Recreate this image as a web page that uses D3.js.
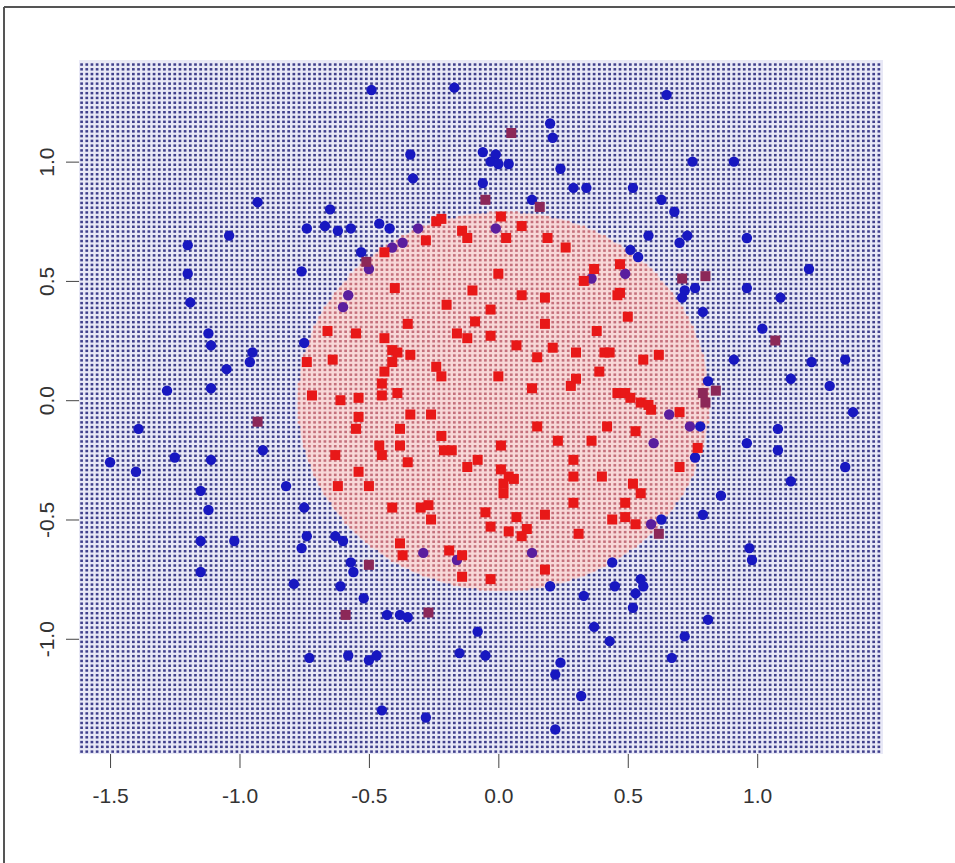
<!DOCTYPE html>
<html>
<head>
<meta charset="utf-8">
<script src="https://cdnjs.cloudflare.com/ajax/libs/d3/7.8.5/d3.min.js"></script>
<style>
  body { margin: 0; background: #fff; }
  svg { display: block; }
</style>
</head>
<body>
<div id="chart"></div>
<script>
// axis ticks
var xTicks = [-1.5, -1.0, -0.5, 0.0, 0.5, 1.0];
var yTicks = [-1.0, -0.5, 0.0, 0.5, 1.0];

// decision region: circle in data space
var boundaryCenter = [0.02, -0.005];
var boundaryRadius = 0.795;

// outside class, predicted outside (blue circles)
var blueCircles = [
  [-0.49,1.30],[-0.17,1.31],[-0.34,1.03],[-0.33,0.93],[-0.06,1.04],[-0.06,0.91],
  [-0.93,0.83],[-0.65,0.80],[-1.04,0.69],[-1.20,0.65],[-0.74,0.72],[-0.67,0.73],
  [-0.62,0.71],[-0.57,0.72],[-0.46,0.74],[-0.42,0.72],[-0.53,0.62],[-1.20,0.53],
  [-0.76,0.54],[-1.19,0.41],[-1.12,0.28],[-1.11,0.23],[-0.75,0.24],[-0.95,0.20],
  [-0.96,0.16],[-1.05,0.13],[-1.28,0.04],[-1.11,0.05],[-1.39,-0.12],[-1.50,-0.26],
  [-1.40,-0.30],[-1.25,-0.24],[-1.11,-0.25],[-0.91,-0.21],[-0.82,-0.36],[-1.15,-0.38],
  [-1.12,-0.46],[-0.75,-0.45],[-1.15,-0.59],[-1.02,-0.59],[-0.74,-0.57],[-0.76,-0.62],
  [-0.63,-0.57],[-0.60,-0.59],[-1.15,-0.72],[-0.57,-0.68],[-0.56,-0.72],[-0.79,-0.77],
  [-0.61,-0.78],[-0.52,-0.83],[-0.43,-0.90],[-0.38,-0.90],[-0.35,-0.91],[-0.08,-0.97],
  [-0.15,-1.06],[-0.05,-1.07],[-0.73,-1.08],[-0.58,-1.07],[-0.50,-1.09],[-0.47,-1.07],
  [-0.45,-1.30],[-0.28,-1.33],[0.65,1.28],[0.20,1.16],[0.21,1.10],[-0.01,1.03],
  [-0.03,1.00],[0.00,0.99],[0.04,0.99],[0.24,0.97],[0.29,0.89],[0.34,0.89],
  [0.52,0.89],[0.75,1.00],[0.91,1.00],[0.13,0.84],[0.63,0.84],[0.68,0.79],
  [0.58,0.69],[0.73,0.69],[0.70,0.66],[0.96,0.68],[0.51,0.63],[0.54,0.60],
  [0.76,0.47],[0.72,0.46],[0.71,0.43],[1.20,0.55],[0.96,0.47],[1.09,0.43],
  [0.79,0.37],[1.02,0.30],[0.91,0.17],[1.21,0.16],[1.34,0.17],[1.13,0.09],
  [1.28,0.06],[0.81,0.08],[1.37,-0.05],[1.08,-0.12],[0.96,-0.18],[1.08,-0.21],
  [1.34,-0.28],[0.76,-0.24],[1.13,-0.34],[0.86,-0.40],[0.79,-0.48],[0.97,-0.62],
  [0.98,-0.67],[0.44,-0.68],[0.45,-0.78],[0.55,-0.75],[0.56,-0.78],[0.53,-0.81],
  [0.52,-0.87],[0.33,-0.82],[0.20,-0.78],[0.81,-0.92],[0.37,-0.95],[0.43,-1.01],
  [0.72,-0.99],[0.67,-1.08],[0.24,-1.10],[0.22,-1.15],[0.32,-1.24],[0.22,-1.38],
  [0.63,-0.50],[0.78,-0.11]
];

// inside class, predicted inside (red squares)
var redSquares = [
  [-0.24,0.75],[-0.22,0.76],[-0.28,0.67],[-0.14,0.71],[-0.12,0.68],[-0.44,0.62],
  [-0.40,0.47],[-0.10,0.46],[-0.20,0.40],[-0.35,0.32],[-0.09,0.33],[-0.66,0.29],
  [-0.55,0.28],[-0.16,0.28],[-0.12,0.26],[-0.44,0.26],[-0.41,0.21],[-0.39,0.20],
  [-0.34,0.19],[-0.74,0.16],[-0.64,0.17],[-0.41,0.16],[-0.24,0.14],[-0.22,0.10],
  [-0.44,0.12],[-0.45,0.07],[-0.72,0.02],[-0.61,0.00],[-0.54,0.01],[-0.45,0.02],
  [-0.39,0.03],[-0.54,-0.07],[-0.34,-0.06],[-0.26,-0.06],[-0.55,-0.12],[-0.38,-0.12],
  [-0.22,-0.15],[-0.46,-0.19],[-0.38,-0.19],[-0.21,-0.21],[-0.18,-0.21],[-0.45,-0.23],
  [-0.63,-0.23],[-0.35,-0.26],[-0.12,-0.28],[-0.08,-0.25],[-0.54,-0.30],[-0.50,-0.36],
  [-0.62,-0.36],[-0.41,-0.45],[-0.30,-0.45],[-0.27,-0.44],[-0.26,-0.50],[-0.05,-0.47],
  [-0.38,-0.60],[-0.37,-0.65],[-0.19,-0.63],[-0.14,-0.65],[-0.14,-0.74],
  [0.01,0.77],[0.09,0.73],[0.03,0.68],[0.19,0.68],[0.26,0.64],[0.47,0.57],
  [0.00,0.53],[0.37,0.55],[0.33,0.50],[0.47,0.45],[0.46,0.44],[0.09,0.44],
  [0.18,0.43],[-0.03,0.38],[0.50,0.35],[0.18,0.32],[0.38,0.29],[-0.03,0.27],
  [0.07,0.23],[0.21,0.22],[0.15,0.18],[0.30,0.20],[0.41,0.20],[0.43,0.20],
  [0.56,0.17],[0.62,0.19],[0.39,0.12],[0.00,0.10],[0.13,0.05],[0.28,0.06],
  [0.30,0.09],[0.46,0.03],[0.49,0.03],[0.51,0.01],[0.55,-0.01],[0.58,-0.02],
  [0.59,-0.04],[0.70,-0.05],[0.70,-0.28],[0.77,-0.20],[0.15,-0.11],[0.42,-0.11],
  [0.53,-0.13],[0.01,-0.19],[0.23,-0.17],[0.36,-0.17],[0.29,-0.25],[0.01,-0.29],
  [0.04,-0.32],[0.06,-0.33],[0.02,-0.35],[0.02,-0.39],[0.29,-0.32],[0.40,-0.32],
  [0.52,-0.35],[0.55,-0.39],[0.29,-0.43],[0.49,-0.43],[0.07,-0.49],[0.18,-0.48],
  [0.44,-0.50],[0.49,-0.49],[0.53,-0.52],[-0.03,-0.53],[0.04,-0.55],[0.09,-0.57],
  [0.11,-0.54],[0.31,-0.56],[0.18,-0.71],[-0.03,-0.75]
];

// inside class, uncertain prediction (maroon squares)
var purpleSquares = [
  [-0.05,0.84],[0.05,1.12],[0.16,0.81],[-0.51,0.58],[0.71,0.51],[0.80,0.52],
  [1.07,0.25],[0.79,0.03],[0.84,0.04],[0.80,-0.01],[-0.93,-0.09],[-0.50,-0.69],
  [-0.59,-0.90],[-0.27,-0.89],[0.62,-0.56]
];

// outside class, uncertain prediction (purple circles)
var purpleCircles = [
  [-0.31,0.72],[-0.41,0.64],[-0.37,0.66],[-0.50,0.55],[-0.58,0.44],[-0.60,0.39],
  [-0.01,0.72],[0.49,0.53],[0.36,0.51],[0.66,-0.06],[0.74,-0.11],[0.60,-0.18],
  [0.59,-0.52],[0.13,-0.64],[-0.29,-0.64],[-0.16,-0.67]
];

var width = 955, height = 863;
var plot = {left: 79, right: 883, top: 60, bottom: 754};

var svg = d3.select("#chart")
  .append("svg")
    .attr("width", width)
    .attr("height", height);

var x = d3.scaleLinear()
  .domain([-1.62, 1.486])
  .range([plot.left, plot.right]);
var y = d3.scaleLinear()
  .domain([-1.483, 1.426])
  .range([plot.bottom, plot.top]);

// frame of the picture
svg.append("line")
  .attr("x1", 4).attr("x2", width).attr("y1", 7).attr("y2", 7)
  .attr("stroke", "#555").attr("stroke-width", 2);
svg.append("line")
  .attr("x1", 4).attr("x2", 4).attr("y1", 7).attr("y2", height)
  .attr("stroke", "#555").attr("stroke-width", 2);

svg.append("clipPath").attr("id", "plotclip")
  .append("rect")
    .attr("x", plot.left).attr("y", plot.top)
    .attr("width", plot.right - plot.left)
    .attr("height", plot.bottom - plot.top);

var g = svg.append("g").attr("clip-path", "url(#plotclip)");

// gaps between grid cells
g.append("rect")
  .attr("x", plot.left).attr("y", plot.top)
  .attr("width", plot.right - plot.left)
  .attr("height", plot.bottom - plot.top)
  .attr("fill", "#e8e8f6");
g.append("ellipse")
  .attr("cx", x(boundaryCenter[0]))
  .attr("cy", y(boundaryCenter[1]))
  .attr("rx", x(boundaryRadius) - x(0))
  .attr("ry", y(0) - y(boundaryRadius))
  .attr("fill", "#f8d8d8");

// classification grid
var step = 0.02;
var gridX = d3.range(x.domain()[0] + step / 2, x.domain()[1], step);
var gridY = d3.range(y.domain()[0] + step / 2, y.domain()[1], step);
var cells = [];
gridX.forEach(function(gx) {
  gridY.forEach(function(gy) {
    var dx = gx - boundaryCenter[0], dy = gy - boundaryCenter[1];
    cells.push({x: gx, y: gy, inside: dx * dx + dy * dy < boundaryRadius * boundaryRadius});
  });
});
var cw = (x(step) - x(0)) * 0.52;
var ch = (y(0) - y(step)) * 0.52;

g.selectAll(".cell")
  .data(cells)
  .enter()
  .append("rect")
    .attr("x", function(d) { return x(d.x) - cw / 2; })
    .attr("y", function(d) { return y(d.y) - ch / 2; })
    .attr("width", cw)
    .attr("height", ch)
    .attr("fill", function(d) { return d.inside ? "#c4707c" : "#40408c"; });

// points
var pts = svg.append("g");
pts.selectAll(".bc")
  .data(blueCircles)
  .enter()
  .append("circle")
    .attr("cx", function(d) { return x(d[0]); })
    .attr("cy", function(d) { return y(d[1]); })
    .attr("r", 5.2)
    .attr("fill", "#1818c0");
pts.selectAll(".pc")
  .data(purpleCircles)
  .enter()
  .append("circle")
    .attr("cx", function(d) { return x(d[0]); })
    .attr("cy", function(d) { return y(d[1]); })
    .attr("r", 5.2)
    .attr("fill", "#5a1e9e");
pts.selectAll(".rs")
  .data(redSquares)
  .enter()
  .append("rect")
    .attr("x", function(d) { return x(d[0]) - 5; })
    .attr("y", function(d) { return y(d[1]) - 5; })
    .attr("width", 10)
    .attr("height", 10)
    .attr("fill", "#e81818");
pts.selectAll(".ps")
  .data(purpleSquares)
  .enter()
  .append("rect")
    .attr("x", function(d) { return x(d[0]) - 5; })
    .attr("y", function(d) { return y(d[1]) - 5; })
    .attr("width", 10)
    .attr("height", 10)
    .attr("fill", "#8c2858");

// x axis
var xAxis = svg.append("g")
  .attr("transform", "translate(0," + plot.bottom + ")")
  .call(d3.axisBottom(x).tickValues(xTicks).tickSize(14).tickPadding(20)
    .tickFormat(d3.format(".1f")));
// y axis
var yAxis = svg.append("g")
  .attr("transform", "translate(" + plot.left + ",0)")
  .call(d3.axisLeft(y).tickValues(yTicks).tickSize(13).tickPadding(20)
    .tickFormat(d3.format(".1f")));

[xAxis, yAxis].forEach(function(a) {
  a.select(".domain").remove();
  a.selectAll("line").attr("stroke", "#444");
  a.selectAll("text")
    .attr("fill", "#333")
    .style("font-family", "'Liberation Sans', Arial, sans-serif")
    .style("font-size", "21px");
});
xAxis.selectAll("text").text(function(d) { return d3.format(".1f")(d).replace("−", "-"); });
yAxis.selectAll("text")
  .text(function(d) { return d3.format(".1f")(d).replace("−", "-"); })
  .attr("text-anchor", "middle")
  .attr("x", null)
  .attr("dy", null)
  .attr("transform", "translate(-33,0) rotate(-90)")
  .attr("dominant-baseline", "central");
</script>
</body>
</html>
